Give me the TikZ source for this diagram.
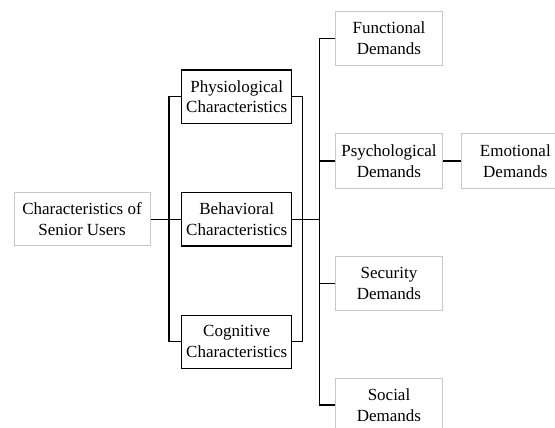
\documentclass[tikz,border=0pt]{standalone}
\usepackage{fontspec}
\setmainfont{Liberation Serif}
\begin{document}
\begin{tikzpicture}[x=1pt,y=-1pt,
  every node/.style={inner sep=0pt, align=center, font=\fontsize{17}{20.6}\selectfont},
  charbox/.style={draw=black, line width=1.1pt, minimum width=110pt, minimum height=53.3pt},
  graybox/.style={draw=black!22, line width=1pt, minimum width=106.7pt, minimum height=54pt},
  conn/.style={line width=1.4pt, black}]
\useasboundingbox (0,0) rectangle (555,428);
\node[graybox, minimum width=136pt, minimum height=53.3pt] (senior) at (82,219.3) {Characteristics of\\Senior Users};
\node[charbox] (phys) at (236.7,96.7) {Physiological\\Characteristics};
\node[charbox] (behav) at (236.7,219.3) {Behavioral\\Characteristics};
\node[charbox] (cogn) at (236.7,341.7) {Cognitive\\Characteristics};
\node[graybox] (func) at (389,38.3) {Functional\\Demands};
\node[graybox] (psych) at (389,161) {Psychological\\Demands};
\node[graybox] (sec) at (389,283.7) {Security\\Demands};
\node[graybox] (soc) at (389,405) {Social\\Demands};
\node[graybox] (emo) at (515.3,161) {Emotional\\Demands};
\coordinate (L) at (169,219.3);
\coordinate (R) at (302.7,219.3);
\coordinate (D) at (319.3,219.3);
\draw[conn] (senior.east) -- (behav.west);
\draw[conn] (phys.west) -| (L) |- (cogn.west);
\draw[conn] (phys.east) -| (R) |- (cogn.east);
\draw[conn] (behav.east) -- (D);
\draw[conn] (func.west) -| (D) |- (soc.west);
\draw[conn] (D) |- (psych.west);
\draw[conn] (D) |- (sec.west);
\draw[conn] (psych.east) -- (emo.west);
\end{tikzpicture}
\end{document}
